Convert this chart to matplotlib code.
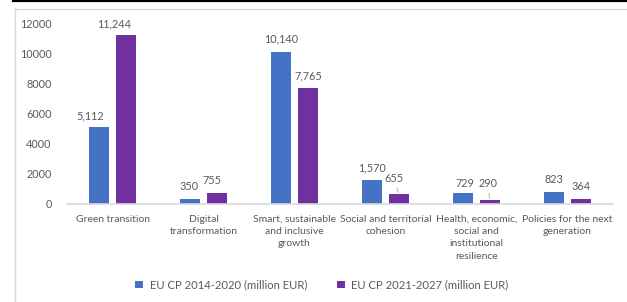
import matplotlib
matplotlib.use("Agg")
import matplotlib.pyplot as plt
from matplotlib.lines import Line2D
from matplotlib.patches import Patch

categories = [
    "Green transition",
    "Digital\ntransformation",
    "Smart, sustainable\nand inclusive\ngrowth",
    "Social and territorial\ncohesion",
    "Health, economic,\nsocial and\ninstitutional\nresilience",
    "Policies for the next\ngeneration",
]
cp_2014_2020 = [5112, 350, 10140, 1570, 729, 823]
cp_2021_2027 = [11244, 755, 7765, 655, 290, 364]
series_names = ["EU CP 2014-2020 (million EUR)", "EU CP 2021-2027 (million EUR)"]
yticks = [0, 2000, 4000, 6000, 8000, 10000, 12000]

BLUE = "#4472C4"
PURPLE = "#7030A0"
TXT = "#595959"
GRID = "#D9D9D9"

plt.rcParams["font.family"] = ["Lato", "DejaVu Sans"]
FS = 7.8

W, H = 627, 302
fig = plt.figure(figsize=(W / 100, H / 100), dpi=100)

# outer chart frame and top rule
fig.add_artist(Line2D([13 / W, 1], [1 - 0.8 / H, 1 - 0.8 / H], color="black", lw=1.6))
fig.add_artist(Line2D([15.5 / W, 15.5 / W], [0, 1 - 9 / H], color=GRID, lw=1.0))
fig.add_artist(Line2D([15.5 / W, 1], [1 - 9 / H, 1 - 9 / H], color=GRID, lw=1.0))

ax = fig.add_axes([67 / W, (H - 204) / H, (613 - 67) / W, (204 - 24) / H])
x = list(range(len(categories)))
bw, off = 0.22, 0.145
b1 = ax.bar([i - off for i in x], cp_2014_2020, width=bw, color=BLUE, zorder=2)
b2 = ax.bar([i + off for i in x], cp_2021_2027, width=bw, color=PURPLE, zorder=2)

ax.set_xlim(-0.5, len(categories) - 0.5)
ax.set_ylim(0, 12000)
ax.set_yticks(yticks)
ax.set_yticklabels([str(v) for v in yticks])
ax.set_xticks(x)
ax.set_xticklabels(categories, linespacing=1.45, fontsize=7.5)
ax.tick_params(axis="both", length=0, colors=TXT)
ax.tick_params(axis="y", pad=11, labelsize=FS)
ax.tick_params(axis="x", pad=8)
for s in ["top", "right", "left"]:
    ax.spines[s].set_visible(False)
ax.spines["bottom"].set_color(GRID)
ax.spines["bottom"].set_linewidth(1.2)

# data labels: (dx, dy) pixel offsets of label centre from bar top
offs1 = [(-9, 11), (-1, 12), (0, 13), (0, 12.5), (2, 10), (0, 12.5)]
offs2 = [(-12, 11), (-5, 12), (1, 12), (-5, 16), (-2, 16), (0, 12.5)]
leader2 = [False, False, False, True, True, False]

for bars, vals, offs, lead in [
    (b1, cp_2014_2020, offs1, [False] * 6),
    (b2, cp_2021_2027, offs2, leader2),
]:
    for bar, v, (dx, dy), ld in zip(bars, vals, offs, lead):
        xc = bar.get_x() + bar.get_width() / 2
        kw = {}
        if ld:
            kw["arrowprops"] = dict(arrowstyle="-", color="#A6A6A6", lw=0.6,
                                    shrinkA=1, shrinkB=1)
        ax.annotate(f"{v:,}", xy=(xc, v), xytext=(dx, dy),
                    textcoords="offset pixels", ha="center", va="center",
                    fontsize=FS, color=TXT, **kw)

handles = [Patch(facecolor=BLUE), Patch(facecolor=PURPLE)]
fig.legend(handles, series_names, loc="center", bbox_to_anchor=(322 / W, 17 / H),
           ncol=2, frameon=False, fontsize=8.1, labelcolor=TXT,
           handlelength=0.65, handleheight=0.65, handletextpad=0.6,
           columnspacing=2.7)

fig.savefig("out.png", dpi=100)
